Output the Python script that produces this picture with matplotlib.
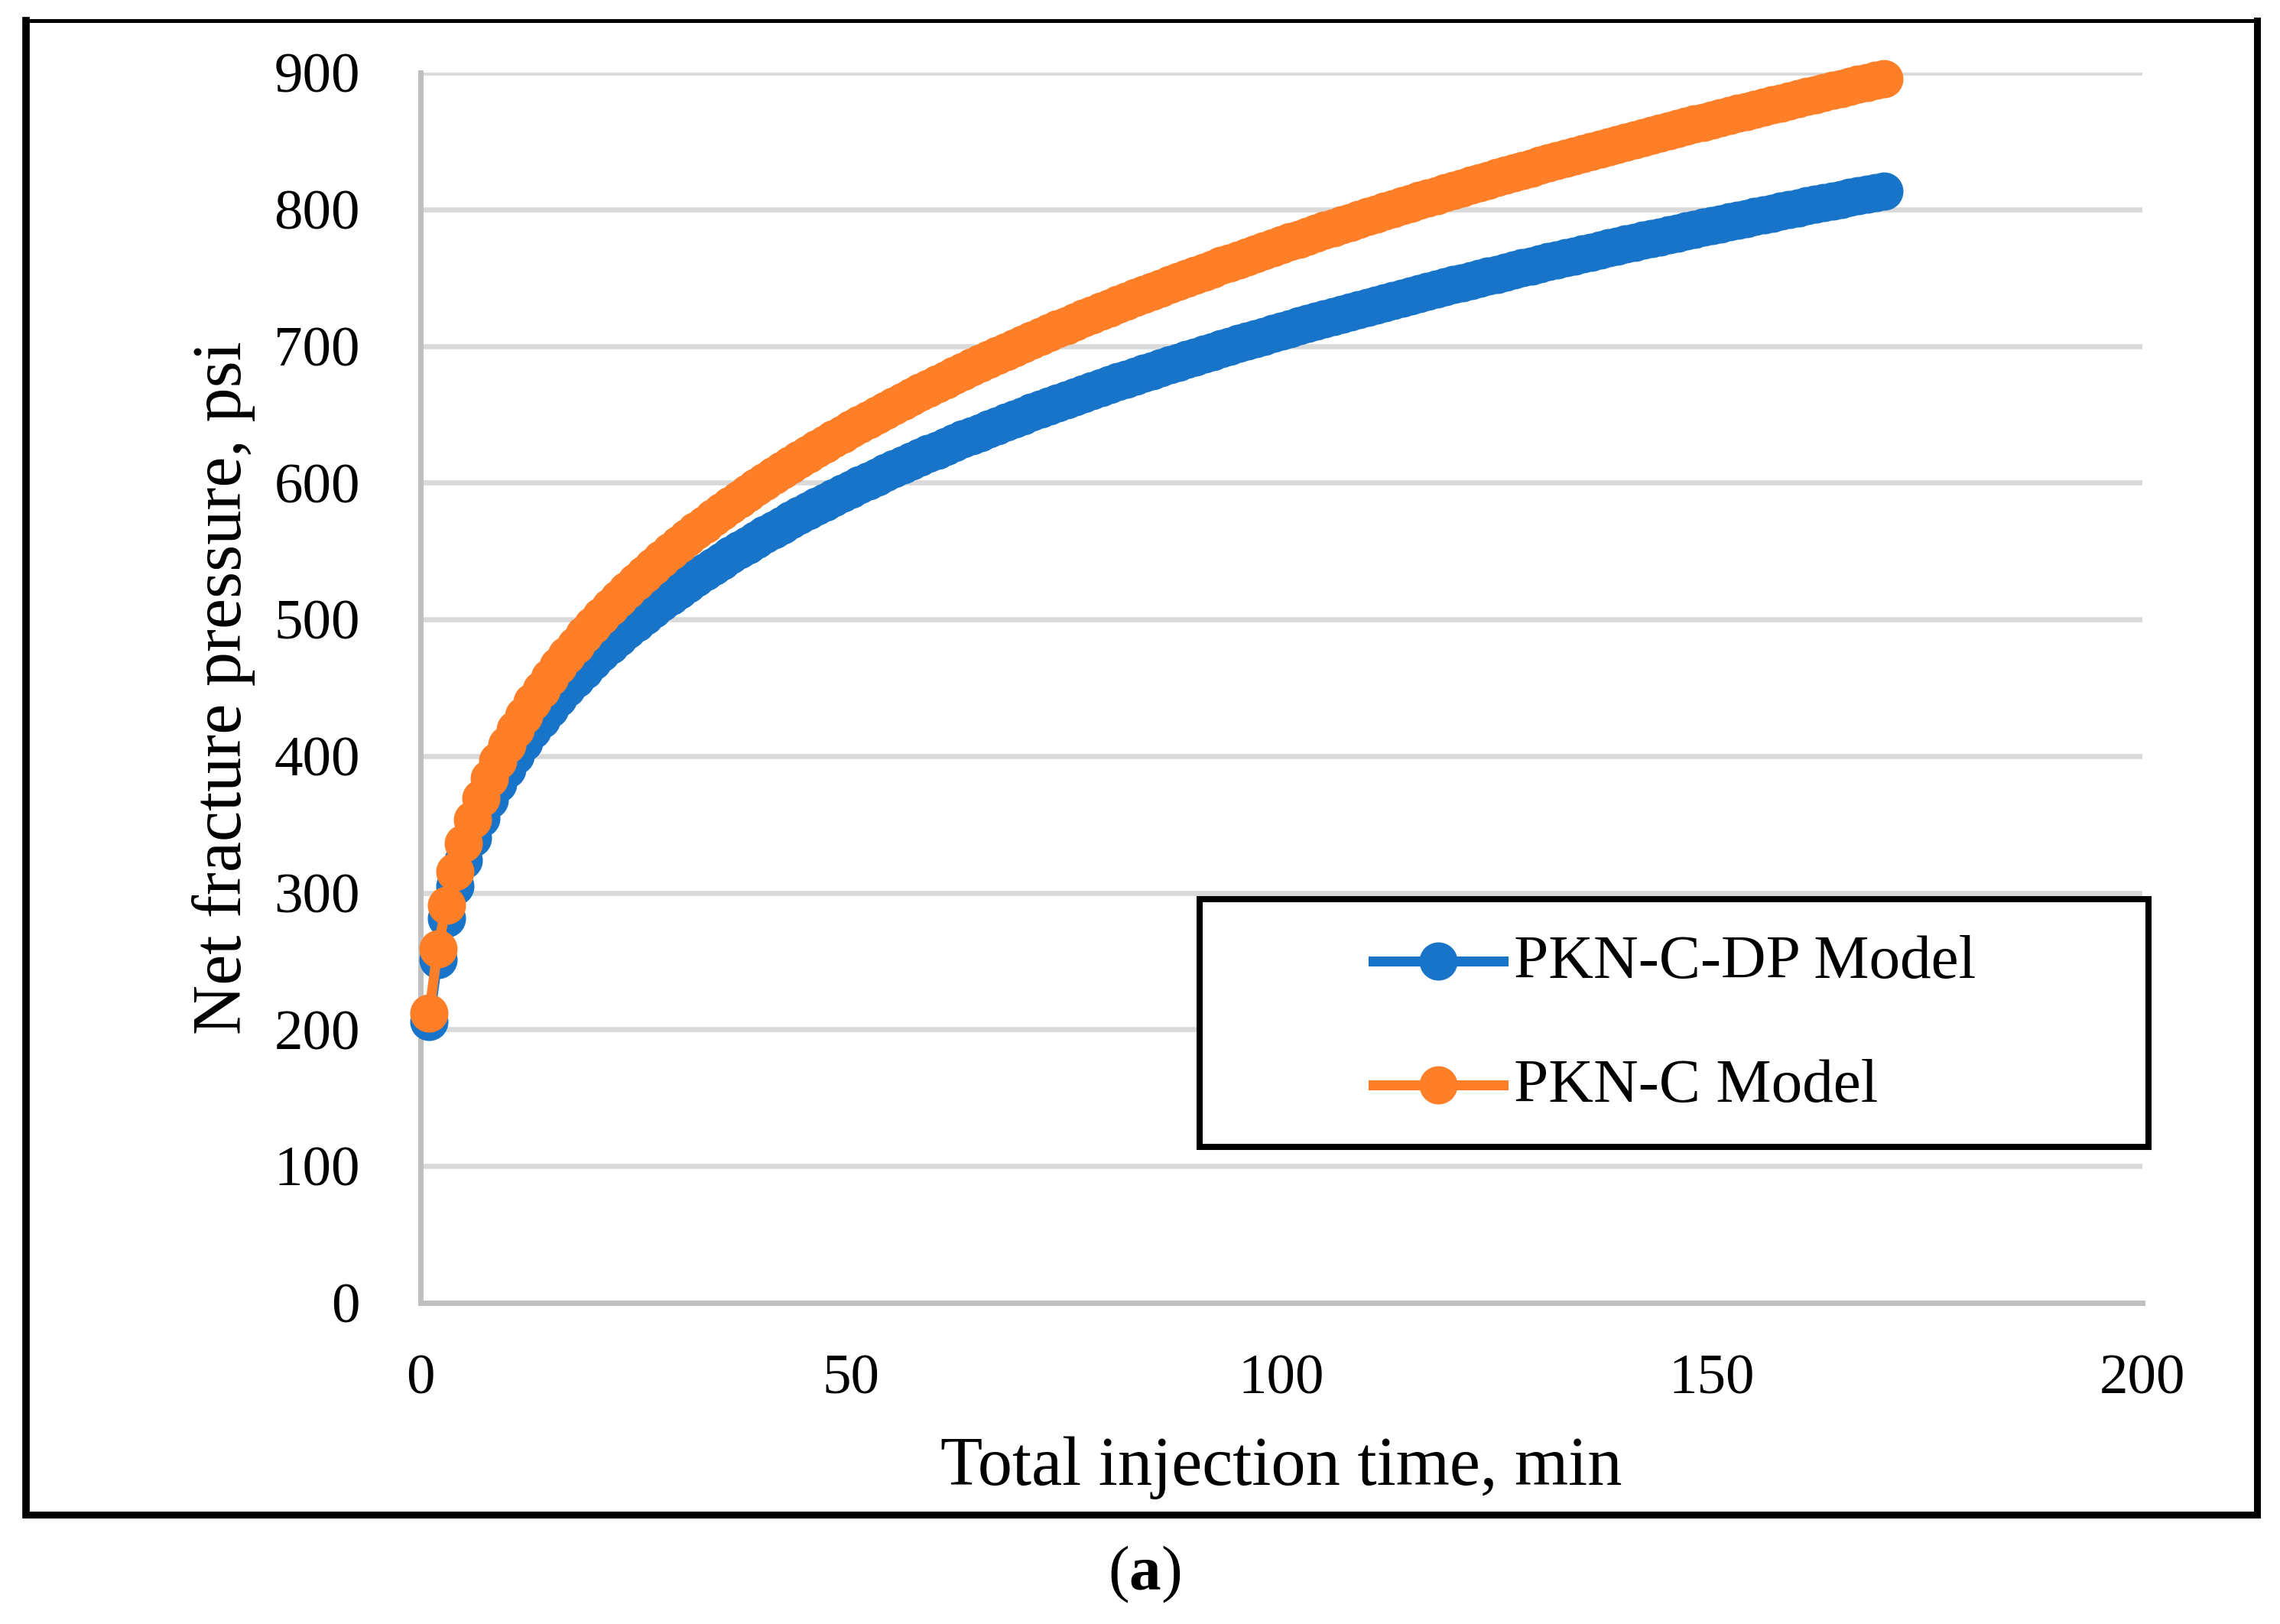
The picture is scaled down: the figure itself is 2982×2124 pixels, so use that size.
import matplotlib
matplotlib.use('Agg')
import matplotlib.pyplot as plt
from matplotlib.lines import Line2D
from matplotlib.patches import Rectangle

# one point per minute, net pressure in psi
time_min = list(range(1, 171))

pkn_c_dp = [206.0, 251.2, 281.4, 304.7, 323.9, 340.3, 354.8, 367.8, 379.6, 390.4,
            400.5, 409.9, 418.7, 427.0, 434.8, 442.3, 449.5, 456.3, 462.8, 469.1,
            475.2, 481.0, 486.6, 492.0, 497.3, 502.4, 507.4, 512.2, 516.9, 521.5,
            525.9, 530.3, 534.6, 538.8, 542.8, 546.8, 550.7, 554.5, 558.2, 561.9,
            565.5, 569.1, 572.6, 576.0, 579.3, 582.6, 585.8, 589.0, 592.2, 595.3,
            598.3, 601.3, 604.3, 607.2, 610.1, 612.9, 615.7, 618.5, 621.2, 623.9,
            626.6, 629.2, 631.8, 634.3, 636.8, 639.3, 641.8, 644.2, 646.6, 649.0,
            651.4, 653.8, 656.1, 658.4, 660.7, 662.9, 665.1, 667.3, 669.5, 671.6,
            673.8, 675.9, 678.0, 680.0, 682.1, 684.1, 686.2, 688.2, 690.2, 692.1,
            694.1, 696.0, 698.0, 699.9, 701.8, 703.6, 705.5, 707.3, 709.2, 711.0,
            712.8, 714.6, 716.4, 718.1, 719.9, 721.6, 723.4, 725.1, 726.8, 728.5,
            730.2, 731.8, 733.5, 735.1, 736.8, 738.4, 740.0, 741.6, 743.2, 744.8,
            746.4, 747.9, 749.5, 751.0, 752.5, 754.0, 755.6, 757.1, 758.6, 760.1,
            761.6, 763.0, 764.5, 765.9, 767.4, 768.8, 770.3, 771.7, 773.1, 774.5,
            775.9, 777.3, 778.7, 780.0, 781.4, 782.8, 784.2, 785.5, 786.9, 788.2,
            789.5, 790.8, 792.1, 793.4, 794.7, 796.0, 797.3, 798.6, 799.9, 801.1,
            802.4, 803.7, 805.0, 806.2, 807.4, 808.6, 809.9, 811.1, 812.3, 813.5]

pkn_c = [212.0, 258.9, 290.7, 315.4, 336.0, 353.7, 369.4, 383.6, 396.5, 408.4,
         419.5, 429.8, 439.5, 448.7, 457.5, 465.8, 473.7, 481.3, 488.6, 495.7,
         502.5, 509.0, 515.4, 521.5, 527.4, 533.2, 538.8, 544.3, 549.7, 554.9,
         559.9, 564.9, 569.7, 574.5, 579.1, 583.6, 588.1, 592.5, 596.7, 600.9,
         605.0, 609.1, 613.1, 617.0, 620.9, 624.7, 628.4, 632.1, 635.7, 639.3,
         642.8, 646.2, 649.6, 653.0, 656.3, 659.6, 662.8, 666.0, 669.2, 672.3,
         675.4, 678.4, 681.4, 684.4, 687.3, 690.2, 693.1, 696.0, 698.8, 701.5,
         704.3, 707.0, 709.7, 712.4, 715.1, 717.7, 720.3, 722.8, 725.4, 727.9,
         730.4, 732.9, 735.3, 737.7, 740.1, 742.5, 744.9, 747.3, 749.6, 751.9,
         754.2, 756.5, 758.8, 761.0, 763.2, 765.4, 767.6, 769.8, 772.0, 774.1,
         776.2, 778.3, 780.4, 782.5, 784.6, 786.6, 788.6, 790.6, 792.7, 794.7,
         796.7, 798.6, 800.6, 802.5, 804.5, 806.4, 808.3, 810.2, 812.1, 813.9,
         815.8, 817.6, 819.5, 821.3, 823.1, 824.9, 826.7, 828.5, 830.3, 832.1,
         833.9, 835.6, 837.3, 839.0, 840.7, 842.4, 844.1, 845.8, 847.5, 849.2,
         850.9, 852.5, 854.2, 855.8, 857.4, 859.0, 860.7, 862.3, 863.9, 865.4,
         867.0, 868.6, 870.2, 871.7, 873.3, 874.8, 876.4, 877.9, 879.4, 880.9,
         882.4, 883.9, 885.4, 886.9, 888.4, 889.9, 891.4, 892.8, 894.3, 895.7]

labels = ['PKN-C-DP Model', 'PKN-C Model']
x_ticks = [0, 50, 100, 150, 200]
y_ticks = [0, 100, 200, 300, 400, 500, 600, 700, 800, 900]

blue = '#1874c8'
orange = '#fe7f27'

plt.rcParams['font.family'] = 'Liberation Serif'
plt.rcParams['mathtext.fontset'] = 'custom'
plt.rcParams['mathtext.rm'] = 'Liberation Serif'
plt.rcParams['mathtext.bf'] = 'Liberation Serif:bold'

W, H = 2982, 2124
fig = plt.figure(figsize=(W / 100, H / 100), dpi=100)
fig.patch.set_facecolor('white')

ax = fig.add_axes([550 / W, 1 - 1704 / H, 2252 / W, 1609 / H])

ax.plot(time_min, pkn_c_dp, color=blue, lw=9.4, marker='o', ms=35,
        zorder=3, clip_on=False)
ax.plot(time_min, pkn_c, color=orange, lw=9.4, marker='o', ms=35,
        zorder=4, clip_on=False)

ax.set_xlim(0, 200)
ax.set_ylim(0, 900)
ax.set_xticks(x_ticks)
ax.set_yticks(y_ticks)
ax.yaxis.grid(True, color='#d9d9d9', lw=4.8)
ax.set_axisbelow(True)
for s in ['top', 'right']:
    ax.spines[s].set_visible(False)
for s in ['left', 'bottom']:
    ax.spines[s].set_color('#bfbfbf')
    ax.spines[s].set_linewidth(5)
ax.tick_params(axis='both', length=0, labelsize=54)
ax.tick_params(axis='x', pad=48)
ax.tick_params(axis='y', pad=57)

fig.text(1676 / W, 1 - 1942 / H, 'Total injection time, min',
         ha='center', va='baseline', fontsize=65)
fig.text(292 / W, 1 - 900 / H, 'Net fracture pressure, psi',
         rotation=90, ha='center', va='center', fontsize=65)
fig.text(1497 / W, 1 - 2079 / H, r'($\mathbf{a}$)',
         ha='center', va='baseline', fontsize=60)

# legend box, drawn by hand to get the wide Excel-style frame
fig.add_artist(Rectangle((1569 / W, 1 - 1500 / H), (2810 - 1569) / W, (1500 - 1176) / H,
                         transform=fig.transFigure, fc='white', ec='black',
                         lw=5.8, zorder=5))
for col, lab, ym, yb in [(blue, labels[0], 1257, 1279), (orange, labels[1], 1419, 1441)]:
    fig.add_artist(Line2D([1796 / W, 1966 / W], [1 - ym / H, 1 - ym / H], color=col,
                          lw=9.4, transform=fig.transFigure, zorder=6))
    fig.add_artist(Line2D([1881 / W], [1 - ym / H], color=col, marker='o', ms=35,
                          transform=fig.transFigure, zorder=7))
    fig.text(1980 / W, 1 - yb / H, lab, ha='left', va='baseline', fontsize=58.5, zorder=7)

# outer frame
frame = [((34, 26.5), (2951.5, 26.5), 3.6),
         ((34, 26.5), (34, 1980.5), 7.0),
         ((34, 1980.5), (2951.5, 1980.5), 6.5),
         ((2951.5, 26.5), (2951.5, 1980.5), 6.5)]
for (x0, y0), (x1, y1), lw in frame:
    fig.add_artist(Line2D([x0 / W, x1 / W], [1 - y0 / H, 1 - y1 / H], color='black',
                          lw=lw, solid_capstyle='projecting', transform=fig.transFigure))

fig.savefig('out.png', dpi=100, facecolor='white')
